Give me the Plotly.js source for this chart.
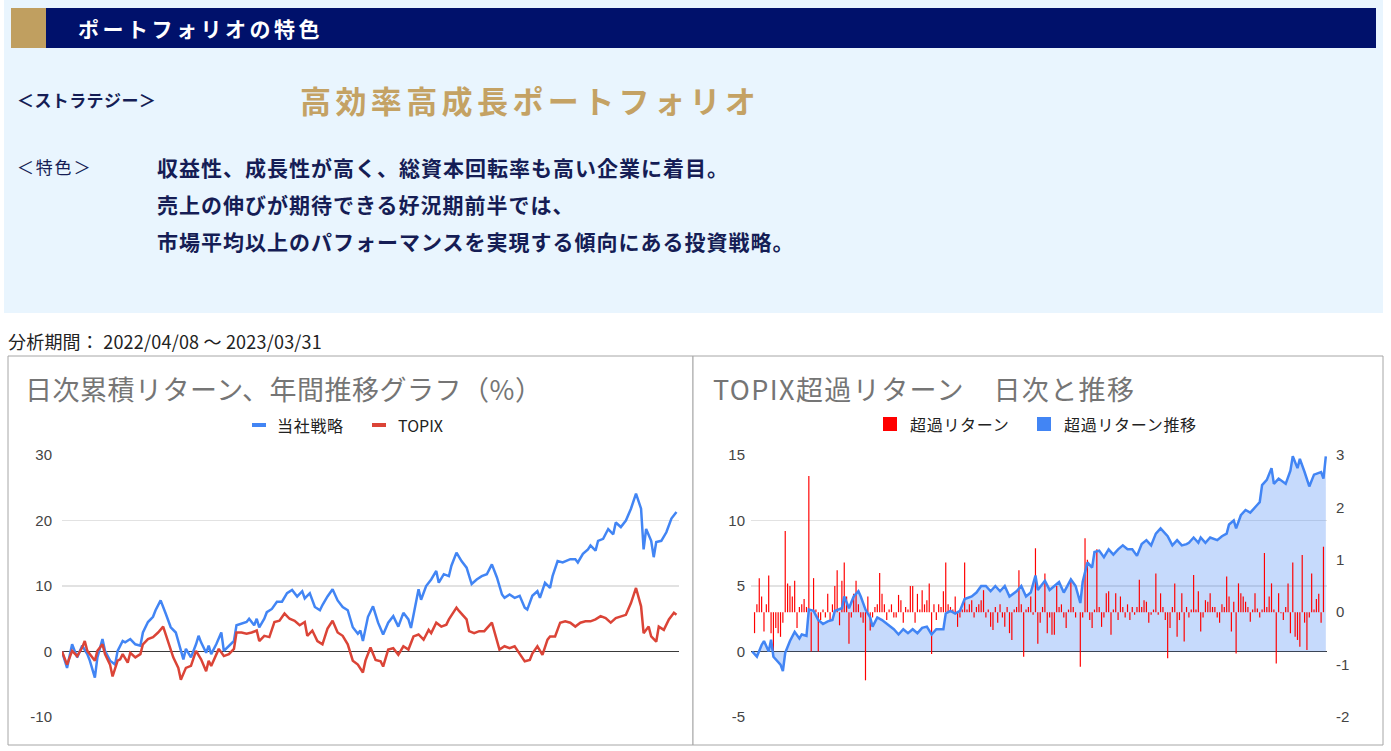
<!DOCTYPE html>
<html><head><meta charset="utf-8">
<script src="https://cdn.plot.ly/plotly-3.0.1.min.js"></script>
<style>html,body{margin:0;padding:0;background:#fff;overflow:hidden}#chart{width:1391px;height:751px}</style>
</head><body><div id="chart"></div>
<script>
// ---------- texts ----------
const bannerTitle = "ポートフォリオの特色";
const strategyLabel = "＜ストラテジー＞";
const strategyName = "高効率高成長ポートフォリオ";
const featureLabel = "＜特色＞";
const featureLines = [
  "収益性、成長性が高く、総資本回転率も高い企業に着目。",
  "売上の伸びが期待できる好況期前半では、",
  "市場平均以上のパフォーマンスを実現する傾向にある投資戦略。"
];
const periodText = "分析期間： 2022/04/08 ～ 2023/03/31";
const leftTitle = "日次累積リターン、年間推移グラフ（%）";
const rightTitle = "TOPIX超過リターン　日次と推移";
const seriesNames = ["当社戦略", "TOPIX"];
const excessNames = ["超過リターン", "超過リターン推移"];
const leftTicks = [-10, 0, 10, 20, 30];
const leftTickText = ["-10", "0", "10", "20", "30"];
const rightTicksL = [-5, 0, 5, 10, 15];
const rightTickTextL = ["-5", "0", "5", "10", "15"];
const rightTicksR = [-2, -1, 0, 1, 2, 3];
const rightTickTextR = ["-2", "-1", "0", "1", "2", "3"];

// ---------- data (trading-day index, value %) ----------
const stratDay = [0,2,4,6,8,10,11,13,14,16,17,19,21,22,24,25,27,29,31,32,34,36,37,39,41,43,45,47,48,49,51,53,54,55,57,58,59,61,63,64,66,68,69,71,73,74,76,77,78,80,81,83,85,87,89,91,93,95,96,98,100,102,103,105,107,109,111,113,115,117,118,119,121,123,125,127,129,131,133,135,137,138,141,142,144,146,148,149,151,153,154,156,158,160,161,162,164,166,168,170,172,174,175,177,179,181,183,184,186,188,189,191,193,194,196,198,201,203,204,206,208,209,211,212,214,216,218,219,221,223,225,227,229,230,231,233,234,235,237,239,241,243];
const stratVal = [0,-2.5,1.1,-0.9,0.9,-0.4,-1.4,-4.0,-0.9,1.9,0.1,-1.4,-2.0,0.1,1.6,1.4,1.9,1.1,0.9,2.9,4.5,5.3,6.3,7.8,5.8,3.7,2.9,0.1,-1.2,0.4,-0.9,1.1,2.4,1.4,-0.2,0.9,-0.4,1.1,2.9,0.1,0.9,1.6,4.0,4.2,4.5,5.0,4.0,5.0,3.7,5.0,6.0,6.5,7.6,7.6,8.9,9.4,8.4,9.2,8.1,8.9,6.8,6.3,7.1,8.4,9.5,7.8,6.8,6.3,3.7,2.7,3.2,1.6,5.3,6.9,4.4,2.6,4.4,5.4,3.8,5.9,4.9,3.6,9.5,7.9,10.0,11.0,12.3,10.5,11.8,11.5,13.1,15.1,13.8,12.8,11.5,10.3,11.0,11.5,11.8,13.3,11.3,8.7,8.2,8.7,8.2,8.5,6.7,6.4,8.5,9.2,8.2,10.5,9.7,11.5,13.8,13.6,14.1,14.1,13.6,14.9,15.6,16.2,15.4,16.9,17.2,18.7,17.9,19.7,19.0,20.0,21.8,24.1,21.8,15.6,18.7,16.9,14.4,16.7,16.9,18.2,20.3,21.3];

const topixDay = [0,2,4,6,8,9,10,12,13,14,16,17,19,20,22,23,24,26,27,29,31,32,34,36,38,40,42,44,46,47,49,51,53,55,57,58,59,61,62,64,66,68,69,71,73,75,77,78,80,82,84,86,88,90,92,94,96,97,99,101,103,105,107,109,111,113,115,117,119,120,122,124,126,127,129,131,133,135,137,139,141,143,145,146,148,150,152,153,156,157,160,161,163,165,167,170,171,173,175,177,179,181,183,185,186,188,190,192,193,195,197,199,201,203,205,207,209,211,213,215,217,219,221,223,225,227,229,230,232,233,235,236,238,240,242,243];
const topixVal = [0,-2.0,0.1,-0.7,0.6,1.6,0.1,-0.9,-1.4,0.1,1.1,-0.4,-2.0,-3.8,-1.4,-1.2,-0.4,-1.7,-0.2,-0.9,-0.4,1.1,1.9,2.2,2.9,3.8,1.6,-0.9,-2.5,-4.3,-2.5,-2.2,0.1,-1.2,-3.0,-1.4,-2.2,-0.4,0.4,-0.7,-0.4,0.4,2.9,2.9,2.7,2.9,3.2,1.6,2.4,2.2,4.5,4.7,5.8,5.0,4.7,4.0,4.5,2.4,3.2,1.6,1.1,3.5,4.7,2.9,2.4,1.1,-1.4,-2.0,-3.2,-1.4,0.6,-1.3,-1.5,-2.3,0.3,0.5,-0.5,0.8,0.3,2.3,2.6,1.8,3.3,2.8,4.4,3.8,4.1,4.9,6.7,6.2,4.9,3.1,2.8,3.1,3.1,4.4,3.1,0.3,0.8,0.5,0.8,-0.3,-1.5,-1.3,-0.3,0.8,-0.5,1.8,2.3,2.3,4.4,4.6,4.4,3.8,4.4,4.6,4.6,4.9,5.4,5.1,4.4,5.1,5.4,5.6,7.4,9.7,6.9,2.8,3.8,2.3,1.5,3.8,3.3,4.9,5.9,5.6];

const excDay = [0,2,4,5,7,8,9,12,13,14,16,18,20,21,23,24,26,28,30,32,34,35,38,39,41,43,45,46,48,50,51,53,55,57,60,62,64,66,68,70,72,74,76,78,81,82,84,86,88,90,93,95,97,99,101,103,105,107,109,112,114,116,118,120,121,124,126,128,130,132,135,137,139,140,142,144,145,147,149,151,153,155,157,159,161,163,165,167,169,171,173,176,178,180,182,184,185,187,189,190,192,194,197,199,201,202,204,205,207,209,211,214,215,216,218,220,221,223,226,228,229,231,232,234,236,238,241,242,243];
const excCum = [0,-0.4,0.5,0.8,0,0.9,-0.4,-1.0,-1.5,-0.1,0.8,1.5,1.0,1.3,1.2,3.2,3.1,2.4,2.1,2.3,2.4,3.1,3.3,4.2,3.3,4.2,4.6,4.2,3.2,2.6,1.9,2.6,2.4,2.1,1.7,1.3,1.7,1.4,1.7,1.4,1.8,1.9,1.3,1.7,1.7,2.9,3.1,2.9,3.1,4.0,4.2,4.5,5.0,5.0,4.6,5.0,4.6,5.0,4.2,4.6,5.0,4.2,4.5,5.8,4.7,5.4,4.7,5.0,5.3,4.5,5.5,5.0,3.7,5.3,6.8,6.4,7.6,7.7,7.2,7.8,7.4,7.8,8.1,7.8,7.8,7.3,8.2,8.5,8.1,9.0,9.4,8.8,8.1,8.5,8.1,8.2,8.3,8.7,8.3,8.7,8.3,8.7,8.5,8.8,9.0,9.7,10.0,9.4,10.4,10.8,10.6,11.2,11.4,12.7,13.1,14.0,12.8,13.2,12.8,13.8,14.9,14.0,14.7,13.7,12.6,13.5,13.7,13.2,14.9];

// daily excess return (one value per trading day, right axis)
const dailyExcess = [
  0.0,-0.4,0.15,0.65,0.3,-0.37,0.15,0.7,-0.4,-0.8,
  -0.3,-0.4,-0.47,-0.2,1.55,0.55,0.5,0.3,0.6,-0.3,
  0.1,0.15,0.25,0.1,2.6,-0.75,0.65,0.05,-0.75,-0.15,
  0.05,-0.1,0.35,-0.15,0.15,0.5,0.8,-0.25,0.6,0.95,
  0.3,-0.6,-0.1,0.35,0.6,0.15,-0.1,-0.2,-1.3,0.3,
  -0.35,-0.1,0.1,0.15,0.75,0.35,0.15,-0.15,0.05,0.15,
  -0.1,-0.1,0.33,0.23,-0.2,0.1,0.05,0.5,0.5,-0.2,
  0.35,0.05,0.42,0.15,0.23,0.55,-0.8,0.15,-0.15,0.15,
  0.1,0.4,0.95,0.15,0.1,0.05,0.3,-0.28,-0.1,0.05,
  0.95,0.05,0.15,0.23,-0.1,0.1,0.15,0.23,0.42,-0.1,
  0.05,-0.28,-0.34,0.1,-0.2,0.15,-0.1,-0.28,0.1,-0.4,
  -0.53,0.05,0.1,0.8,0.15,-0.85,0.05,0.1,0.3,-0.05,
  1.22,-0.6,-0.2,0.1,0.74,-0.4,-0.1,-0.43,-0.43,0.5,
  0.1,0.15,-0.1,-0.3,0.05,0.64,0.1,-0.1,0.0,-1.04,
  -0.1,1.41,1.0,-0.15,-0.3,0.05,1.2,0.1,-0.28,-0.1,
  0.36,0.4,-0.43,0.05,0.36,-0.15,0.3,0.1,-0.1,0.15,
  -0.15,0.1,-0.05,0.1,0.62,0.1,0.23,0.2,-0.2,-0.05,
  0.05,0.74,-0.05,0.36,0.1,-0.15,-0.88,-0.3,0.1,0.55,
  -0.47,-0.15,0.36,-0.56,0.1,-0.1,0.05,0.71,0.05,0.4,
  -0.37,-0.1,0.23,0.2,0.36,0.1,0.1,-0.1,-0.2,0.15,
  0.1,0.68,0.3,-0.37,0.2,-0.79,0.55,0.36,0.3,0.2,
  0.1,-0.18,0.05,0.36,0.07,-0.1,0.05,1.13,0.1,0.3,
  0.55,0.05,-0.98,0.36,-0.02,-0.15,0.1,0.55,-0.4,0.95,
  -0.47,-0.53,-0.66,1.09,-0.2,-0.72,-0.1,0.74,0.05,0.25,
  0.35,-0.2,1.25
];
const dailyDay = dailyExcess.map((_, i) => i);

// ---------- layout helpers ----------
const W = 1391, H = 751;
const X = p => p / W;
const Y = p => 1 - p / H;
const CJK = "Noto Sans CJK JP, Noto Sans, sans-serif";
const NUM = "Liberation Sans, Arial, sans-serif";

const BLUE = "#4285f4", RED = "#db4437", BARRED = "#ff0000";
const NAVY = "#00116b", GOLD = "#c09f60", PANEL = "#e9f5fe", INK = "#151d55";

const annos = [], spacing = [];
function T(text, px, py, size, color, weight, ls, family) {
  annos.push({text: text, x: X(px), y: Y(py), xref: "paper", yref: "paper",
    xanchor: "left", yanchor: "middle", align: "left", showarrow: false, borderpad: 0,
    font: {family: family || CJK, size: size, color: color, weight: weight || 400}});
  spacing.push(ls || 0);
}
T(bannerTitle, 77, 28, 21, "#ffffff", 700, 3.5);
T(strategyLabel, 16, 99, 17, INK, 700, 0.4);
T(strategyName, 299, 99, 31, "#c4a264", 700, 4.4);
T(featureLabel, 16, 167, 17, INK, 400, 1.8);
featureLines.forEach((s, i) => T(s, 156, 167 + i * 37, 21, INK, 700, 1));
T(periodText, 7, 341, 18, "#222222", 400, 0.2);
T(leftTitle, 24, 388, 27, "#757575", 400, 0.5);
T(rightTitle, 712, 388, 27, "#757575", 400, 1.4);
T(seriesNames[0], 276, 425, 16, "#222222", 400, 0.7);
T(seriesNames[1], 397, 425, 16, "#222222", 400, 0);
T(excessNames[0], 909, 424, 16, "#222222", 400, 0.7);
T(excessNames[1], 1063, 424, 16, "#222222", 400, 0.7);

function R(x0, y0, x1, y1, fill, line, lw, layer) {
  return {type: "rect", xref: "paper", yref: "paper", x0: X(x0), x1: X(x1), y0: Y(y0), y1: Y(y1),
    fillcolor: fill, line: {color: line || "rgba(0,0,0,0)", width: lw || 0}, layer: layer || "below"};
}
const shapes = [
  R(4, 0, 1383, 313, PANEL),
  R(11, 8, 46, 48, GOLD),
  R(46, 8, 1376, 48, NAVY),
  R(8, 356, 693, 745, "#ffffff", "#a6a6a6", 1),
  R(693, 356, 1383, 745, "#ffffff", "#a6a6a6", 1),
  R(252, 423, 266, 427, BLUE, null, 0, "above"),
  R(372, 423, 386, 427, RED, null, 0, "above"),
  R(883, 417, 897, 431, BARRED, null, 0, "above"),
  R(1037, 417, 1051, 431, BLUE, null, 0, "above")
];

const yDomain = [Y(717), Y(455)];
const tickFont = {family: NUM, size: 15, color: "#444444"};
const hiddenX = {showgrid: false, zeroline: false, showticklabels: false, ticks: "", showline: false, fixedrange: true};

const traces = [
  {x: stratDay, y: stratVal, type: "scatter", mode: "lines", name: seriesNames[0],
   line: {color: BLUE, width: 2.5}, xaxis: "x", yaxis: "y", hoverinfo: "skip"},
  {x: topixDay, y: topixVal, type: "scatter", mode: "lines", name: seriesNames[1],
   line: {color: RED, width: 2.5}, xaxis: "x", yaxis: "y", hoverinfo: "skip"},
  {x: excDay, y: excCum, type: "scatter", mode: "none", fill: "tozeroy",
   fillcolor: "rgba(66,133,244,0.3)", xaxis: "x2", yaxis: "y2", hoverinfo: "skip"},
  {x: dailyDay, y: dailyExcess, type: "bar", name: excessNames[0], width: 0.5,
   marker: {color: BARRED, line: {width: 0}}, xaxis: "x2", yaxis: "y3", hoverinfo: "skip"},
  {x: excDay, y: excCum, type: "scatter", mode: "lines", name: excessNames[1],
   line: {color: BLUE, width: 2.5}, xaxis: "x2", yaxis: "y4", hoverinfo: "skip"}
];

const layout = {
  width: W, height: H, margin: {l: 0, r: 0, t: 0, b: 0},
  paper_bgcolor: "#ffffff", plot_bgcolor: "rgba(0,0,0,0)", showlegend: false,
  font: {family: CJK},
  xaxis: Object.assign({domain: [X(62), X(679)], range: [0, 244], anchor: "y"}, hiddenX),
  yaxis: {domain: yDomain, range: [-10, 30], tickvals: leftTicks, ticktext: leftTickText, anchor: "x",
    gridcolor: "#e2e2e2", gridwidth: 1.6, zeroline: true, zerolinecolor: "#3a3a3a", zerolinewidth: 1.6,
    tickfont: tickFont, ticks: "", ticklabelstandoff: 9, showline: false, fixedrange: true},
  xaxis2: Object.assign({domain: [X(751), X(1327)], range: [-0.5, 243.5], anchor: "y2"}, hiddenX),
  yaxis2: {domain: yDomain, range: [-5, 15], tickvals: rightTicksL, ticktext: rightTickTextL, anchor: "x2",
    gridcolor: "#e2e2e2", gridwidth: 1.6, zeroline: true, zerolinecolor: "#3a3a3a", zerolinewidth: 1.6,
    tickfont: tickFont, ticks: "", ticklabelstandoff: 5, showline: false, fixedrange: true},
  yaxis3: {overlaying: "y2", side: "right", anchor: "x2", range: [-2, 3], tickvals: rightTicksR, ticktext: rightTickTextR,
    showgrid: false, zeroline: false, tickfont: tickFont, ticks: "", ticklabelstandoff: 8,
    showline: false, fixedrange: true},
  yaxis4: {overlaying: "y2", anchor: "x2", range: [-5, 15], visible: false,
    showgrid: false, zeroline: false, fixedrange: true},
  shapes: shapes,
  annotations: annos
};

Plotly.newPlot("chart", traces, layout, {staticPlot: true, displayModeBar: false}).then(() => {
  document.querySelectorAll("#chart .annotation").forEach(g => {
    const i = +g.getAttribute("data-index");
    const t = g.querySelector("text");
    if (t && spacing[i]) t.setAttribute("letter-spacing", spacing[i] + "px");
  });
});
</script></body></html>
